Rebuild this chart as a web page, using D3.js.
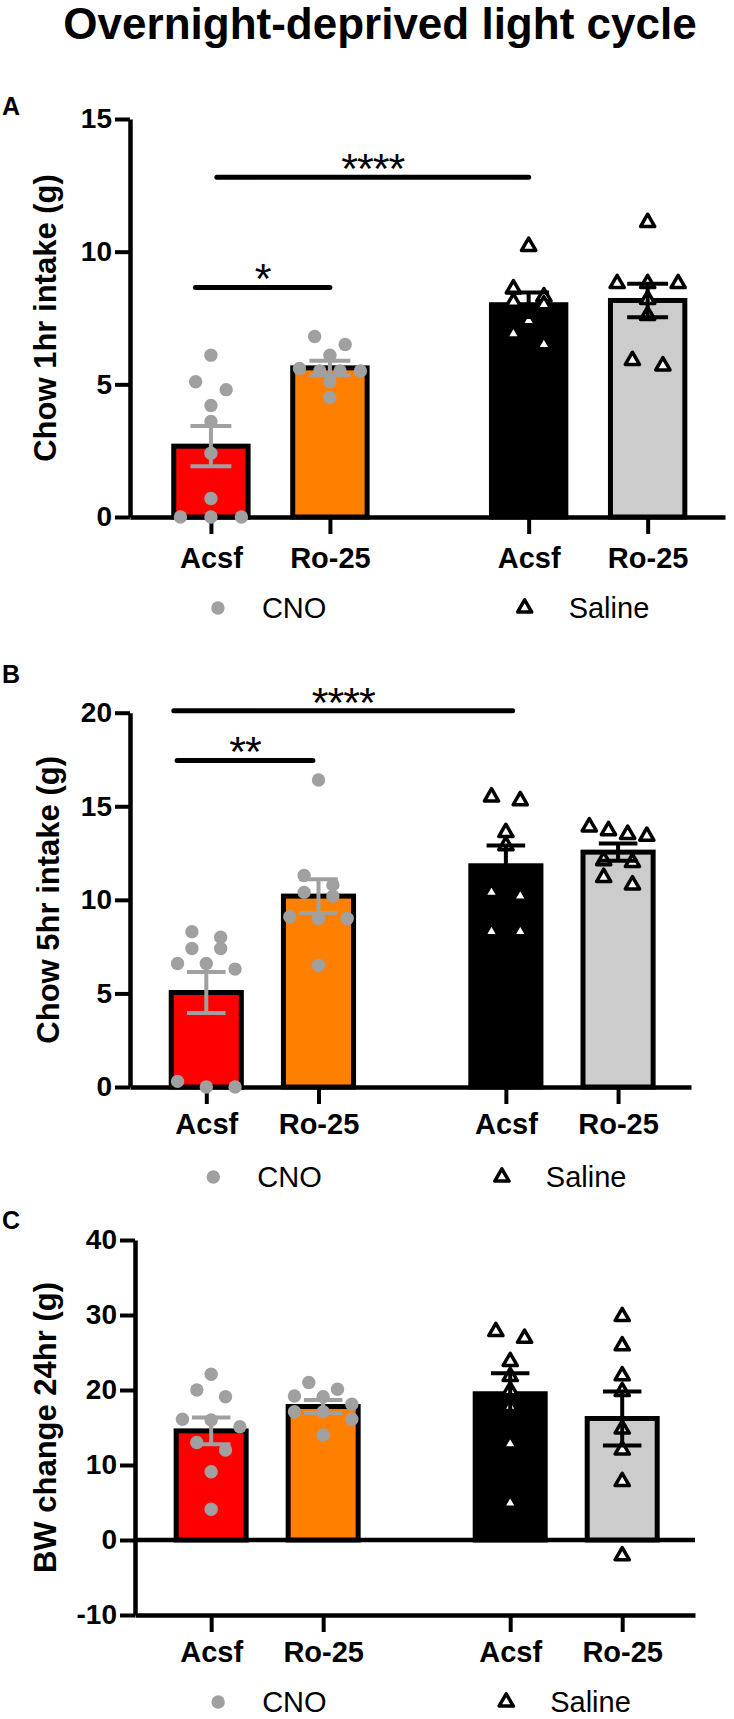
<!DOCTYPE html>
<html>
<head>
<meta charset="utf-8">
<script src="https://cdn.jsdelivr.net/npm/d3@7"></script>
<style>
  body { margin: 0; background: #fff; }
  text { font-family: "Liberation Sans", Arial, Helvetica, sans-serif; }
</style>
</head>
<body>
<script>
// ---- data ----
var title = "Overnight-deprived light cycle";
var groups = ["Acsf", "Ro-25", "Acsf", "Ro-25"];
var treatment = ["CNO", "CNO", "Saline", "Saline"];
var legendLabels = ["CNO", "Saline"];

// A: chow 1hr intake (g)
var chow1hrMean = [2.67, 5.62, 8.0, 8.16];
var chow1hrSem = [0.76, 0.27, 0.46, 0.63];
var chow1hrPts = [
    [6.1, 5.1, 4.8, 4.2, 3.6, 2.4, 0.7, 0, 0, 0],
    [6.8, 6.5, 6.1, 5.6, 5.5, 5.5, 5.5, 5.1, 4.5],
    [10.2, 8.6, 8.3, 8.1, 8.0, 7.4, 6.9, 6.5],
    [11.1, 8.8, 8.8, 8.8, 8.2, 7.6, 5.9, 5.7]
];
var chow1hrTicks = [0, 5, 10, 15];
// [label, from group, to group, height]
var chow1hrSig = [["*", -0.13, 1, 8.65], ["****", 0.05, 2.67, 12.8]];

// B: chow 5hr intake (g)
var chow5hrMean = [5.05, 10.2, 11.82, 12.55];
var chow5hrSem = [1.1, 0.9, 1.08, 0.46];
var chow5hrPts = [
    [8.3, 8.0, 7.4, 7.4, 6.6, 6.6, 6.3, 0.3, 0, 0],
    [16.4, 11.3, 10.8, 10.4, 10.2, 9.1, 9.0, 9.0, 6.5],
    [15.5, 15.3, 13.6, 12.9, 10.4, 10.2, 8.3, 8.3],
    [13.9, 13.7, 13.5, 13.4, 12.1, 12.0, 11.2, 10.8]
];
var chow5hrTicks = [0, 5, 10, 15, 20];
var chow5hrSig = [["**", -0.26, 0.95, 17.45], ["****", -0.29, 2.73, 20.1]];

// C: BW change 24hr (g)
var bwMean = [14.55, 17.8, 19.5, 16.2];
var bwSem = [1.78, 0.87, 2.75, 3.6];
var bwPts = [
    [22.1, 20.0, 19.1, 16.1, 16.0, 15.1, 13.0, 12.0, 9.1, 4.1],
    [21.0, 20.1, 19.2, 19.1, 18.1, 17.1, 17.1, 16.1, 14.0],
    [27.8, 26.9, 23.8, 21.8, 19.9, 17.8, 12.8, 4.9],
    [29.8, 25.9, 21.9, 19.8, 14.8, 12.0, 7.8, -2.1]
];
var bwTicks = [-10, 0, 10, 20, 30, 40];

// ---- layout / style ----
var svgWidth = 734;
var svgHeight = 1719;
var slots = [0, 1, 2.67, 3.67];   // group positions, gap between CNO and Saline
var barFill = ["#ff0000", "#ff8000", "#000000", "#cccccc"];
var ptGray = "#a0a0a0";

var panels = [
    { letter: "A", letterY: 115, top: 119, bottom: 517, left: 130, width: 595,
      domain: [0, 15], ticks: chow1hrTicks, label: "Chow 1hr intake (g)", labelX: 56,
      means: chow1hrMean, sems: chow1hrSem, pts: chow1hrPts, sig: chow1hrSig,
      tickPad: 51, legendDy: 91 },
    { letter: "B", letterY: 683, top: 712.7, bottom: 1087, left: 130, width: 561,
      domain: [0, 20], ticks: chow5hrTicks, label: "Chow 5hr intake (g)", labelX: 59,
      means: chow5hrMean, sems: chow5hrSem, pts: chow5hrPts, sig: chow5hrSig,
      tickPad: 47, legendDy: 90 },
    { letter: "C", letterY: 1229, top: 1240, bottom: 1615, left: 135, width: 560,
      domain: [-10, 40], ticks: bwTicks, label: "BW change 24hr (g)", labelX: 56,
      means: bwMean, sems: bwSem, pts: bwPts, sig: [],
      tickPad: 47, legendDy: 87 }
];

var svg = d3.select("body")
    .append("svg")
    .attr("width", svgWidth)
    .attr("height", svgHeight);

svg.append("text")
    .attr("x", 380)
    .attr("y", 39)
    .attr("text-anchor", "middle")
    .attr("font-size", 44)
    .attr("font-weight", "bold")
    .text(title);

var tri = d3.symbol().type(d3.symbolTriangle).size(88);

// spread points of one group into rows, like the prism scatter
function spreadPoints(vals, y, cx, bw) {
    var sorted = vals.slice().sort((a, b) => b - a);
    var rows = [];
    sorted.forEach(function (v) {
        var row = rows[rows.length - 1];
        if (row && y(v) - y(row[0]) < 12) row.push(v);
        else rows.push([v]);
    });
    var out = [];
    rows.forEach(function (row) {
        var n = row.length;
        var step = n > 1 ? Math.min(0.41 * bw, 0.82 * bw / (n - 1)) : 0;
        row.forEach(function (v, i) {
            out.push({ v: v, x: cx + (i - (n - 1) / 2) * step, y: y(v) });
        });
    });
    return out;
}

panels.forEach(function (p) {
    var g = svg.append("g");

    var x = d3.scaleLinear()
        .domain([-0.68, 4.32])
        .range([p.left, p.left + p.width]);
    var y = d3.scaleLinear()
        .domain(p.domain)
        .range([p.bottom, p.top]);
    var bw = x(0.625) - x(0);

    // panel letter
    g.append("text")
        .attr("x", 2)
        .attr("y", p.letterY)
        .attr("font-size", 25)
        .attr("font-weight", "bold")
        .text(p.letter);

    // y axis (plain hyphen for negatives, as in the figure)
    var yAxis = d3.axisLeft(y)
        .tickValues(p.ticks)
        .tickFormat(d => String(d))
        .tickSize(15)
        .tickSizeOuter(0)
        .tickPadding(3);
    var yg = g.append("g")
        .attr("transform", `translate(${p.left}, 0)`)
        .call(yAxis);
    yg.select(".domain").attr("stroke-width", 4.5);
    yg.selectAll(".tick line").attr("stroke-width", 4);
    yg.selectAll(".tick text")
        .attr("font-size", 28)
        .attr("font-weight", "bold")
        .attr("font-family", "Liberation Sans, Arial, sans-serif")
        .attr("fill", "#000");

    // x axis at the bottom of the range
    var xAxis = d3.axisBottom(x)
        .tickValues(slots)
        .tickFormat((d, i) => groups[i])
        .tickSize(17)
        .tickSizeOuter(0)
        .tickPadding(p.tickPad - 17 - 20.5);
    var xg = g.append("g")
        .attr("transform", `translate(0, ${p.bottom})`)
        .call(xAxis);
    xg.select(".domain").attr("stroke-width", 4.5);
    xg.selectAll(".tick line").attr("stroke-width", 4);
    xg.selectAll(".tick text")
        .attr("font-size", 29)
        .attr("font-weight", "bold")
        .attr("font-family", "Liberation Sans, Arial, sans-serif")
        .attr("fill", "#000");

    // zero line when the axis does not start at 0
    if (p.domain[0] < 0) {
        g.append("line")
            .attr("x1", p.left)
            .attr("x2", p.left + p.width)
            .attr("y1", y(0))
            .attr("y2", y(0))
            .attr("stroke", "#000")
            .attr("stroke-width", 4.5);
    }

    // y label
    var midY = (p.top + p.bottom) / 2;
    g.append("text")
        .attr("transform", `translate(${p.labelX}, ${midY}) rotate(-90)`)
        .attr("text-anchor", "middle")
        .attr("font-size", 31)
        .attr("font-weight", "bold")
        .text(p.label);

    // bars
    g.selectAll(".bar")
        .data(p.means)
        .enter()
        .append("rect")
        .attr("x", (d, i) => x(slots[i]) - bw / 2)
        .attr("y", d => y(d))
        .attr("width", bw)
        .attr("height", d => y(0) - y(d))
        .attr("fill", (d, i) => barFill[i])
        .attr("stroke", "#000")
        .attr("stroke-width", 5);

    // points
    p.pts.forEach(function (vals, i) {
        var pos = spreadPoints(vals, y, x(slots[i]), bw);
        if (treatment[i] === "CNO") {
            g.selectAll(null)
                .data(pos)
                .enter()
                .append("circle")
                .attr("cx", d => d.x)
                .attr("cy", d => d.y)
                .attr("r", 6.7)
                .attr("fill", ptGray);
        } else {
            g.selectAll(null)
                .data(pos)
                .enter()
                .append("path")
                .attr("d", tri)
                .attr("transform", d => `translate(${d.x}, ${d.y})`)
                .attr("fill", "#fff")
                .attr("stroke", "#000")
                .attr("stroke-width", 3.5)
                .attr("stroke-linejoin", "round");
        }
    });

    // error bars (mean +/- sem)
    var capW = 0.55 * bw;
    p.means.forEach(function (m, i) {
        var cx = x(slots[i]);
        var col = treatment[i] === "CNO" ? ptGray : "#000";
        var eb = g.append("g")
            .attr("stroke", col)
            .attr("stroke-width", 4);
        eb.append("line")
            .attr("x1", cx).attr("x2", cx)
            .attr("y1", y(m - p.sems[i])).attr("y2", y(m + p.sems[i]));
        [m - p.sems[i], m + p.sems[i]].forEach(function (v) {
            eb.append("line")
                .attr("x1", cx - capW / 2).attr("x2", cx + capW / 2)
                .attr("y1", y(v)).attr("y2", y(v));
        });
    });

    // significance bars
    p.sig.forEach(function (s) {
        var x1 = x(s[1]), x2 = x(s[2]), ly = y(s[3]);
        g.append("line")
            .attr("x1", x1).attr("x2", x2)
            .attr("y1", ly).attr("y2", ly)
            .attr("stroke", "#000")
            .attr("stroke-width", 5)
            .attr("stroke-linecap", "round");
        g.append("text")
            .attr("x", (x1 + x2) / 2)
            .attr("y", ly + 6)
            .attr("text-anchor", "middle")
            .attr("font-family", "DejaVu Sans")
            .attr("font-size", 43)
            .attr("letter-spacing", -1)
            .text(s[0]);
    });

    // legend
    var ly = p.bottom + p.legendDy;
    var lx1 = x(slots[0]) + 7;
    var lx2 = x(slots[2]) - 4;
    g.append("circle")
        .attr("cx", lx1).attr("cy", ly).attr("r", 6.7)
        .attr("fill", ptGray);
    g.append("path")
        .attr("d", tri)
        .attr("transform", `translate(${lx2}, ${ly})`)
        .attr("fill", "#fff")
        .attr("stroke", "#000")
        .attr("stroke-width", 3.5)
        .attr("stroke-linejoin", "round");
    [[lx1, legendLabels[0]], [lx2, legendLabels[1]]].forEach(function (l) {
        g.append("text")
            .attr("x", l[0] + 44)
            .attr("y", ly + 10)
            .attr("font-size", 29)
            .text(l[1]);
    });
});
</script>
</body>
</html>
